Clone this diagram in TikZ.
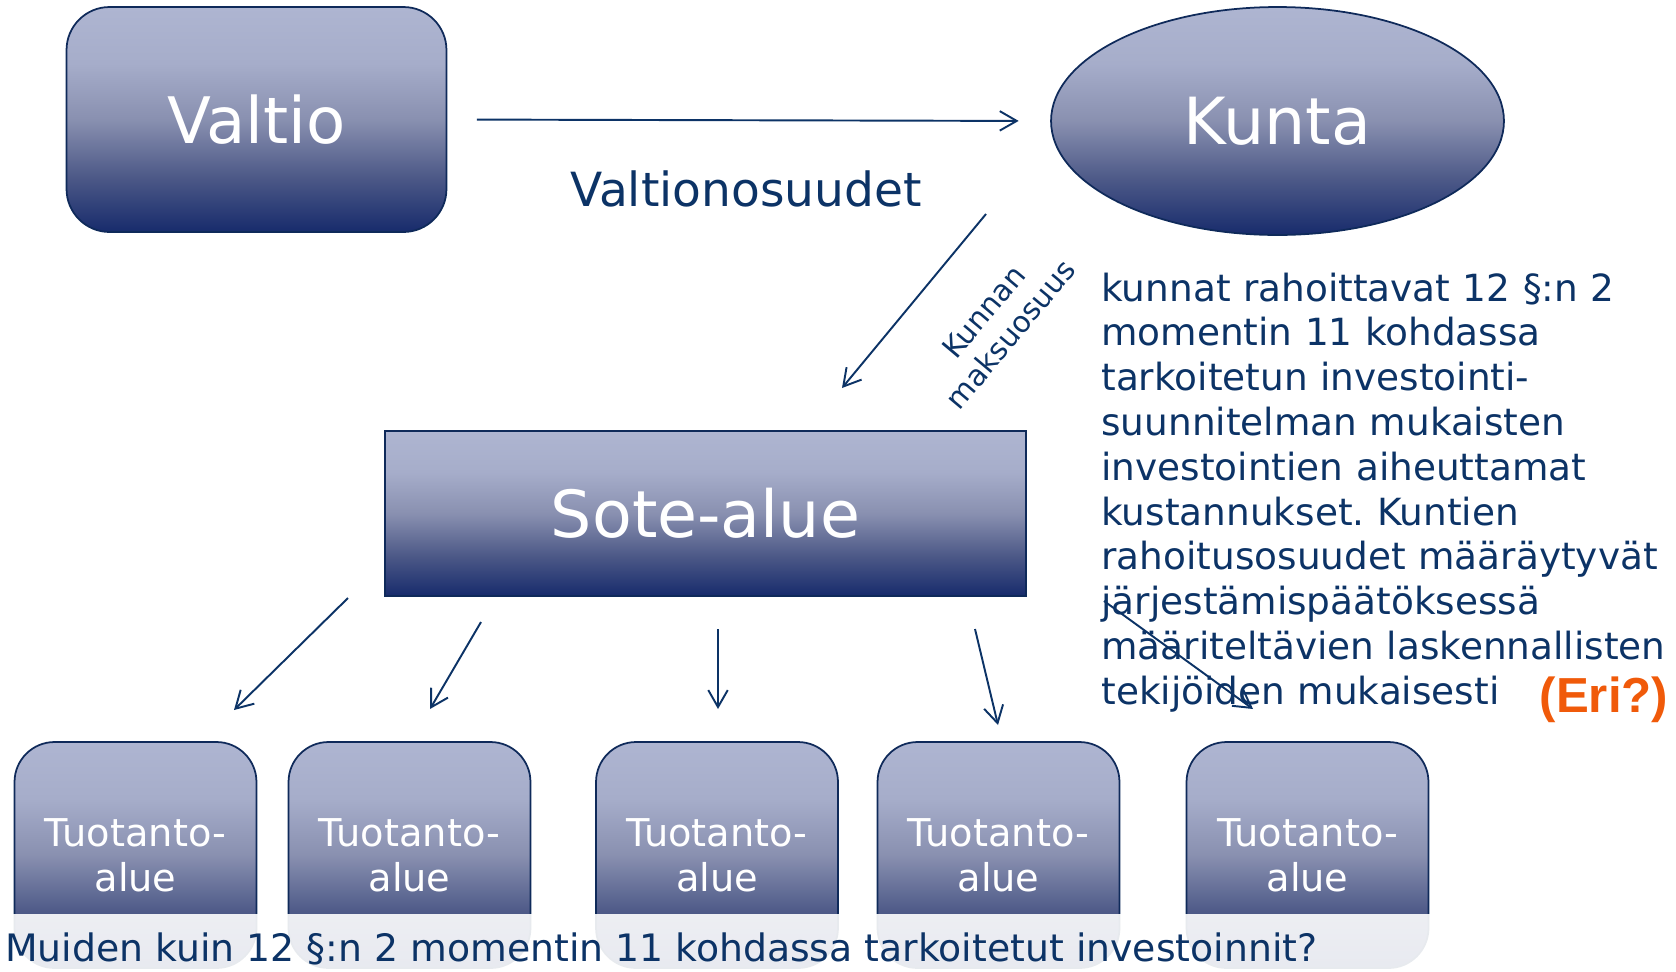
\documentclass[tikz,border=0pt]{standalone}
\usepackage{fontspec}
\setmainfont{DejaVu Sans}
\newfontfamily\arialfont{Liberation Sans}
\usetikzlibrary{arrows.meta,shapes.geometric}
\frenchspacing
\definecolor{navyline}{HTML}{0F2A5A}
\definecolor{navytext}{HTML}{0C3366}
\definecolor{shadeA}{HTML}{AEB5D1}
\definecolor{shadeB}{HTML}{A6ADCA}
\definecolor{shadeC}{HTML}{8990B0}
\definecolor{shadeD}{HTML}{4E5A88}
\definecolor{shadeE}{HTML}{172B6C}
\definecolor{erioranssi}{HTML}{F05A0A}
\pgfdeclareverticalshading{navyfade}{100bp}{color(0bp)=(shadeE); color(25bp)=(shadeE); color(37.5bp)=(shadeD); color(50bp)=(shadeC); color(62.5bp)=(shadeB); color(75bp)=(shadeA); color(100bp)=(shadeA)}

\begin{document}
\begin{tikzpicture}[x=0.02cm,y=-0.02cm,>={Straight Barb[length=3.4mm,width=3.9mm]},
laatikko/.style ={rectangle, draw=navyline, line width=1pt, shade, shading=navyfade, text=white, align=center},
valtio/.style ={laatikko, rounded corners=0.86cm, minimum width=7.6cm, minimum height=4.5cm, font=\fontsize{36.5}{44}\selectfont},
kunta/.style ={ellipse, draw=navyline, line width=1pt, shade, shading=navyfade, text=white, inner sep=0pt, minimum width=9.06cm, minimum height=4.56cm, font=\fontsize{37}{44}\selectfont},
sote/.style ={laatikko, minimum width=12.82cm, minimum height=3.3cm, font=\fontsize{37}{44}\selectfont},
tuotanto/.style ={laatikko, rounded corners=0.8cm, minimum width=4.84cm, minimum height=4.52cm, font=\fontsize{21.8}{25.5}\selectfont},
nuoli/.style ={->, draw=navytext, line width=1.1pt},
teksti/.style ={text=navytext, inner sep=0pt}
]
\useasboundingbox (0,0) rectangle (1676,971);
\draw (256.5,119.5) node[valtio] (Valtio) {Valtio};
\draw (1277.5,121) node[kunta] (Kunta) {Kunta};
\draw (705.5,513.5) node[sote] (Sote) {Sote-alue};
\draw (135.5,855) node[tuotanto] (T1) {Tuotanto-\\alue};
\draw (409.5,855) node[tuotanto] (T2) {Tuotanto-\\alue};
\draw (717,855) node[tuotanto] (T3) {Tuotanto-\\alue};
\draw (998.5,855) node[tuotanto] (T4) {Tuotanto-\\alue};
\draw (1307.5,855) node[tuotanto] (T5) {Tuotanto-\\alue};
\fill[white, opacity=0.9] (0,914) rectangle (1676,971);
\draw (5,961) node[teksti, anchor=base west, font=\fontsize{21.5}{25.5}\selectfont] (Muut) {Muiden kuin 12 §:n 2 momentin 11 kohdassa tarkoitetut investoinnit?};
\draw (746,206) node[teksti, anchor=base, font=\fontsize{26.8}{32}\selectfont] (Osuus) {Valtionosuudet};
\draw (997,323) node[teksti, rotate=50, align=center, font=\fontsize{16.7}{20}\selectfont] (Maksu) {Kunnan\\maksuosuus};
\draw (1101,301) node[teksti, anchor=base west, text width=12cm, align=left, font=\fontsize{21.3}{25.5}\selectfont] (Selitys) {kunnat rahoittavat 12 §:n 2\\momentin 11 kohdassa\\tarkoitetun investointi-\\suunnitelman mukaisten\\investointien aiheuttamat\\kustannukset. Kuntien\\rahoitusosuudet määräytyvät\\järjestämispäätöksessä\\määriteltävien laskennallisten\\tekijöiden mukaisesti};
\draw (1604,700) node[inner sep=0pt, text=erioranssi, font=\arialfont\bfseries\fontsize{28}{34}\selectfont] (Eri) {(Eri?)};
\coordinate (k1) at (986,214);
\coordinate (k2) at (842,388);
\coordinate (s1) at (348,598);
\coordinate (t1) at (234,710);
\coordinate (s2) at (481,622);
\coordinate (t2) at (430,709);
\coordinate (s3) at (718,629);
\coordinate (t3) at (718,709);
\coordinate (s4) at (975,629);
\coordinate (t4) at (998,725);
\coordinate (s5) at (1104,601);
\coordinate (t5) at (1253,709);
\draw[nuoli, shorten <=0.59cm, shorten >=0.63cm] (Valtio.east)--(Kunta.west);
\draw[nuoli] (k1)--(k2);
\draw[nuoli] (s1)--(t1);
\draw[nuoli] (s2)--(t2);
\draw[nuoli] (s3)--(t3);
\draw[nuoli] (s4)--(t4);
\draw[nuoli] (s5)--(t5);
\end{tikzpicture}
\end{document}
